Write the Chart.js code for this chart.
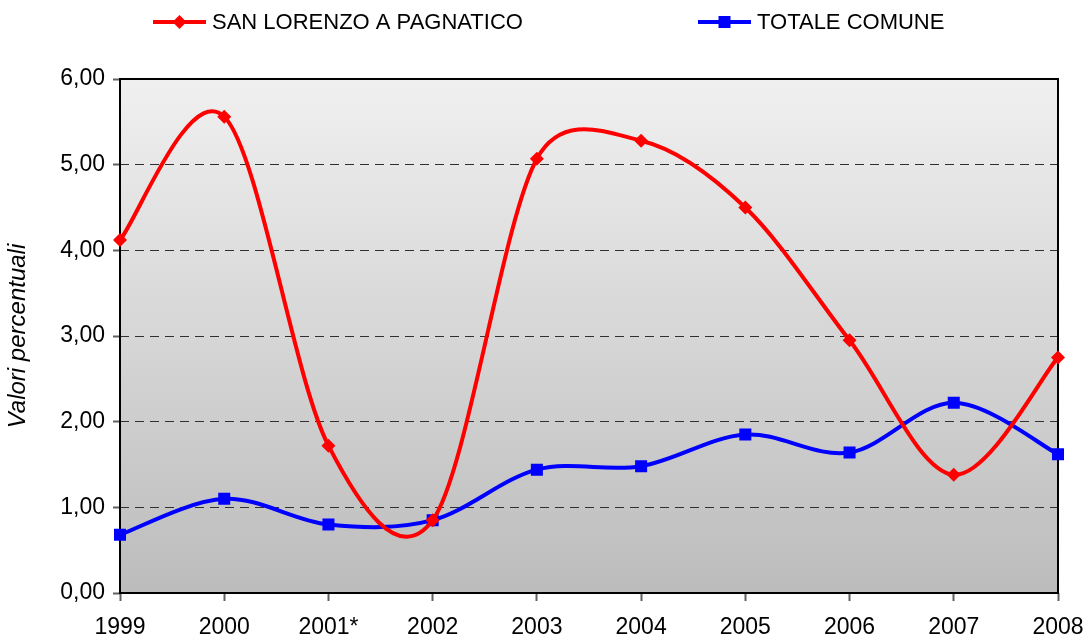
<!DOCTYPE html>
<html>
<head>
<meta charset="utf-8">
<script src="https://cdn.jsdelivr.net/npm/chart.js@4.4.1/dist/chart.umd.min.js"></script>
<style>
    html, body { margin: 0; padding: 0; background: #ffffff; }
    #wrap { width: 1085px; height: 637px; position: relative; }
</style>
</head>
<body>
<div id="wrap"><canvas id="chart"></canvas></div>
<script>
const years = ['1999', '2000', '2001*', '2002', '2003', '2004', '2005', '2006', '2007', '2008'];
const sanLorenzo = [4.12, 5.56, 1.72, 0.85, 5.07, 5.28, 4.50, 2.95, 1.38, 2.75];
const totaleComune = [0.68, 1.10, 0.80, 0.85, 1.44, 1.48, 1.85, 1.64, 2.22, 1.62];
const seriesNames = ['SAN LORENZO A PAGNATICO', 'TOTALE COMUNE'];

const FONT = '"Liberation Sans", Arial, sans-serif';

function fmt(v) {
    return Number(v).toFixed(2).replace('.', ',');
}

function dist(a, b) {
    return Math.hypot(b.x - a.x, b.y - a.y);
}

// grey gradient behind the plot and the black frame around it
const plotBackground = {
    id: 'plotBackground',
    beforeDraw(chart) {
        const { ctx, chartArea: a } = chart;
        const g = ctx.createLinearGradient(0, a.top, 0, a.bottom);
        g.addColorStop(0, '#f0f0f0');
        g.addColorStop(1, '#bcbcbc');
        ctx.save();
        ctx.fillStyle = g;
        ctx.fillRect(a.left, a.top, a.right - a.left, a.bottom - a.top);
        ctx.restore();
    },
    beforeDatasetsDraw(chart) {
        const { ctx, chartArea: a } = chart;
        ctx.save();
        ctx.strokeStyle = '#000000';
        ctx.lineWidth = 2;
        ctx.strokeRect(a.left, a.top, a.right - a.left, a.bottom - a.top);
        ctx.restore();
    },
};

// excel-like smoothing: handles 1/6 of neighbour span, capped at half the segment
const excelSmooth = {
    id: 'excelSmooth',
    beforeDatasetsDraw(chart) {
        chart.data.datasets.forEach((ds, i) => {
            const meta = chart.getDatasetMeta(i);
            const pts = meta.data;
            const n = pts.length;
            for (let k = 0; k < n; k++) {
                const p = pts[k];
                const prev = pts[Math.max(k - 1, 0)];
                const next = pts[Math.min(k + 1, n - 1)];
                const span = dist(prev, next);
                const dx = next.x - prev.x;
                const dy = next.y - prev.y;

                let fIn = 1 / 6;
                const dPrev = dist(prev, p);
                if (span / 6 >= dPrev / 2 && span > 0) fIn = dPrev / (2 * span);
                let fOut = 1 / 6;
                const dNext = dist(p, next);
                if (span / 6 >= dNext / 2 && span > 0) fOut = dNext / (2 * span);

                p.cp1x = p.controlPointPreviousX = p.x - dx * fIn;
                p.cp1y = p.controlPointPreviousY = p.y - dy * fIn;
                p.cp2x = p.controlPointNextX = p.x + dx * fOut;
                p.cp2y = p.controlPointNextY = p.y + dy * fOut;
            }
            if (meta.dataset) {
                meta.dataset._pointsUpdated = true;
                meta.dataset._path = undefined;
            }
        });
    },
};

// excel style legend: line with marker, then label
const lineLegend = {
    id: 'lineLegend',
    afterDraw(chart) {
        const { ctx } = chart;
        const starts = [153, 698];
        ctx.save();
        chart.data.datasets.forEach((ds, i) => {
            const x0 = starts[i];
            const y = 22;
            ctx.strokeStyle = ds.borderColor;
            ctx.lineWidth = 4;
            ctx.beginPath();
            ctx.moveTo(x0, y);
            ctx.lineTo(x0 + 53, y);
            ctx.stroke();
            ctx.fillStyle = ds.borderColor;
            const cx = x0 + 26.5;
            if (ds.pointStyle === 'rectRot') {
                ctx.beginPath();
                ctx.moveTo(cx, y - 7);
                ctx.lineTo(cx + 7, y);
                ctx.lineTo(cx, y + 7);
                ctx.lineTo(cx - 7, y);
                ctx.closePath();
                ctx.fill();
            } else {
                ctx.fillRect(cx - 6, y - 6, 12, 12);
            }
            ctx.fillStyle = '#000000';
            ctx.font = '22px ' + FONT;
            ctx.textBaseline = 'middle';
            ctx.textAlign = 'left';
            ctx.fillText(ds.label, x0 + 59, y + 1);
        });
        ctx.restore();
    },
};

new Chart(document.getElementById('chart').getContext('2d'), {
    type: 'line',
    data: {
        labels: years,
        datasets: [
            {
                label: seriesNames[0],
                data: sanLorenzo,
                borderColor: '#ff0000',
                backgroundColor: '#ff0000',
                borderWidth: 4,
                tension: 0.4,
                pointStyle: 'rectRot',
                pointRadius: 7,
                pointBorderWidth: 0,
            },
            {
                label: seriesNames[1],
                data: totaleComune,
                borderColor: '#0000ff',
                backgroundColor: '#0000ff',
                borderWidth: 4,
                tension: 0.4,
                pointStyle: 'rect',
                pointRadius: 8.5,
                pointBorderWidth: 0,
            },
        ],
    },
    options: {
        responsive: true,
        maintainAspectRatio: false,
        animation: false,
        layout: { padding: { top: 79, right: 27, bottom: 0, left: 0 } },
        plugins: { legend: { display: false }, tooltip: { enabled: false } },
        scales: {
            x: {
                offset: false,
                afterFit: (scale) => {
                    scale.height = 44;
                    scale.paddingLeft = 0;
                    scale.paddingRight = 0;
                },
                grid: {
                    drawOnChartArea: false,
                    drawTicks: true,
                    tickLength: 8,
                    tickColor: '#606060',
                    tickWidth: 2,
                },
                border: { display: false },
                ticks: {
                    color: '#000000',
                    font: { family: FONT, size: 23 },
                    padding: 13,
                    maxRotation: 0,
                    autoSkip: false,
                },
            },
            y: {
                min: 0,
                max: 6,
                afterFit: (scale) => { scale.width = 120; },
                grid: {
                    color: '#303030',
                    lineWidth: 1,
                    tickLength: 7,
                    tickColor: '#606060',
                    tickWidth: 2,
                },
                border: { display: false, dash: [9, 6] },
                ticks: {
                    stepSize: 1,
                    color: '#000000',
                    font: { family: FONT, size: 23 },
                    padding: 8,
                    callback: (v) => fmt(v),
                },
                title: {
                    display: true,
                    text: 'Valori percentuali',
                    color: '#000000',
                    font: { family: FONT, size: 24, style: 'italic' },
                    padding: { top: 4, bottom: 0 },
                },
            },
        },
    },
    plugins: [plotBackground, excelSmooth, lineLegend],
});
</script>
</body>
</html>
